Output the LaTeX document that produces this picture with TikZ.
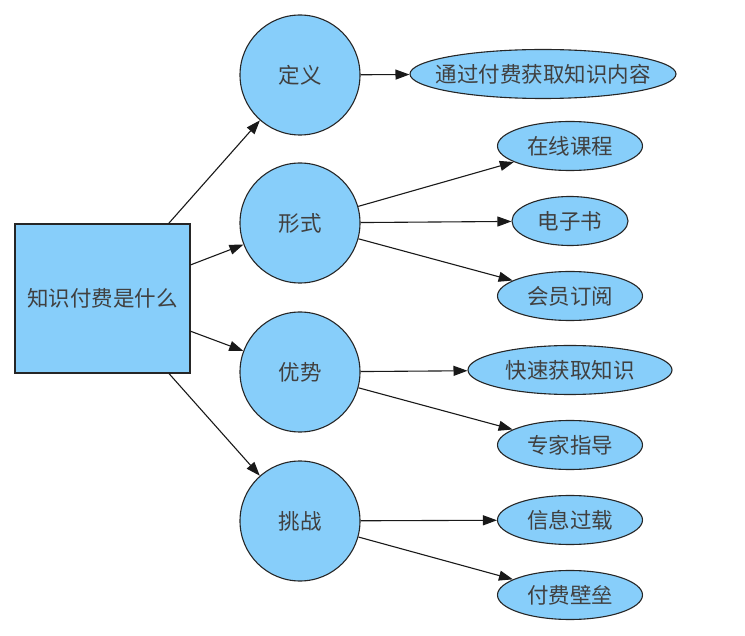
\documentclass[tikz,border=0pt]{standalone}
\usepackage{fontspec}
\newfontfamily\cjk{Noto Sans CJK SC}
\usetikzlibrary{shapes.geometric,arrows.meta}
\definecolor{nodefill}{HTML}{87CEFA}
\begin{document}
\begin{tikzpicture}[x=1pt,y=-1pt,
 base/.style={draw=black!85, line width=1.1pt, fill=nodefill, font=\cjk\fontsize{21.5}{25}\selectfont, text=black!75, inner sep=0pt},
 rootbox/.style={base, rectangle, minimum width=175pt, minimum height=149pt},
 topic/.style={base, circle, minimum size=120pt},
 leaf/.style={base, ellipse, minimum height=49pt},
 link/.style={-{Triangle[length=14pt,width=10pt]}, line width=1.1pt, draw=black!90}]
\useasboundingbox (0,0) rectangle (745,636);
\node[rootbox] (root) at (102.5,298.5) {\makebox[0pt]{知识付费是什么}};
\node[topic] (def) at (300,75) {定义};
\node[topic] (form) at (300,223) {形式};
\node[topic] (adv) at (300,372) {优势};
\node[topic] (chal) at (300,521) {挑战};
\node[leaf, minimum width=266pt] (l1) at (543,74) {\makebox[0pt]{通过付费获取知识内容}};
\node[leaf, minimum width=145pt] (l2) at (570,146) {\makebox[0pt]{在线课程}};
\node[leaf, minimum width=116pt] (l3) at (570,221) {\makebox[0pt]{电子书}};
\node[leaf, minimum width=145pt] (l4) at (570,296) {\makebox[0pt]{会员订阅}};
\node[leaf, minimum width=204pt] (l5) at (570,370) {\makebox[0pt]{快速获取知识}};
\node[leaf, minimum width=145pt] (l6) at (570,445) {\makebox[0pt]{专家指导}};
\node[leaf, minimum width=145pt] (l7) at (570,520) {\makebox[0pt]{信息过载}};
\node[leaf, minimum width=145pt] (l8) at (570,595) {\makebox[0pt]{付费壁垒}};
\foreach \t in {def,form,adv,chal} \draw[link] (root) -- (\t);
\draw[link] (def) -- (l1);
\draw[link] (form) -- (l2);
\draw[link] (form) -- (l3);
\draw[link] (form) -- (l4);
\draw[link] (adv) -- (l5);
\draw[link] (adv) -- (l6);
\draw[link] (chal) -- (l7);
\draw[link] (chal) -- (l8);
\end{tikzpicture}
\end{document}
